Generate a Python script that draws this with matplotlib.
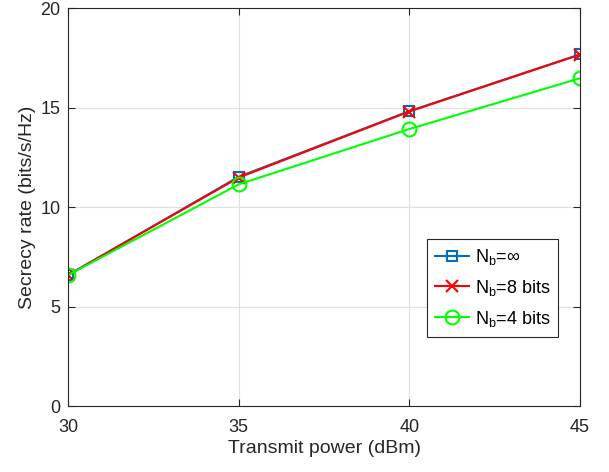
import numpy as np
import matplotlib.pyplot as plt

plt.rcParams['font.family'] = ['Liberation Sans', 'DejaVu Sans']
plt.rcParams['mathtext.fontset'] = 'custom'
plt.rcParams['mathtext.rm'] = 'Liberation Sans'

power = [30, 35, 40, 45]
rate_inf = [6.58, 11.52, 14.82, 17.67]
rate_8 = [6.58, 11.48, 14.80, 17.66]
rate_4 = [6.58, 11.14, 13.92, 16.47]

fig = plt.figure(figsize=(6.09, 4.72), dpi=100)
ax = fig.add_axes([0.1117, 0.1398, 0.8407, 0.8432])

ax.plot(power, rate_inf, '-s', color='#0072BD', lw=1.5, ms=7,
        mfc='none', mew=1.5, label=r'N$_\mathrm{b}$=$\infty$')
ax.plot(power, rate_8, '-x', color='red', lw=1.5, ms=8, mew=1.5,
        label=r'N$_\mathrm{b}$=8 bits')
ax.plot(power, rate_4, '-o', color='#00FF00', lw=1.5, ms=10,
        mfc='none', mew=1.5, label=r'N$_\mathrm{b}$=4 bits')

ax.set_xlim(30, 45)
ax.set_ylim(0, 20)
ax.set_xticks([30, 35, 40, 45])
ax.set_yticks([0, 5, 10, 15, 20])
ax.grid(True, color='#e0e0e0', lw=0.8)
ax.set_axisbelow(True)
ax.tick_params(direction='in', top=True, right=True, labelsize=13,
               colors='#262626', length=5)
ax.tick_params(axis='x', pad=9)
ax.tick_params(axis='y', pad=5.5)
for s in ax.spines.values():
    s.set_color('#262626')
    s.set_linewidth(0.8)
ax.set_xlabel('Transmit power (dBm)', fontsize=14, color='#262626', labelpad=3)
ax.set_ylabel('Secrecy rate (bits/s/Hz)', fontsize=14, color='#262626', labelpad=3)

leg = ax.legend(loc='upper left', bbox_to_anchor=(0.701, 0.42), fontsize=13,
                fancybox=False, edgecolor='#262626', framealpha=1,
                handlelength=1.9, handletextpad=0.3, borderpad=0.45,
                labelspacing=0.6, borderaxespad=0)
leg.get_frame().set_linewidth(0.8)

fig.savefig('out.png')
